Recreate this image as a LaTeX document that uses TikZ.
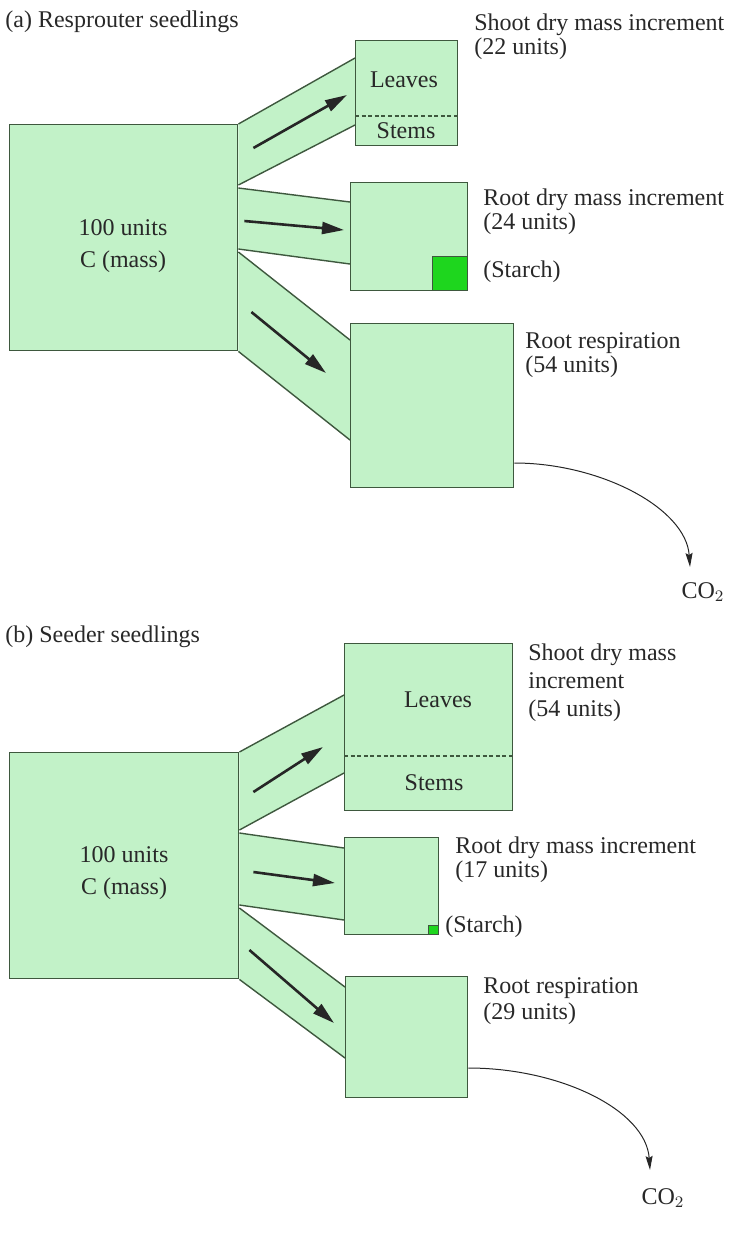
\documentclass[tikz,border=0pt]{standalone}
\usepackage{fontspec}
\setmainfont{Liberation Serif}
\usetikzlibrary{positioning,arrows.meta,calc,backgrounds}

\definecolor{poolfill}{RGB}{194,242,200}
\definecolor{pooldraw}{RGB}{62,88,62}
\definecolor{starchfill}{RGB}{30,214,30}
\definecolor{inktext}{RGB}{40,40,40}

\begin{document}
\begin{tikzpicture}[
	x=0.5pt, y=-0.5pt,
	font=\fontsize{12}{12}\selectfont,
	pool/.style={draw=pooldraw, fill=poolfill, line width=0.7pt,
		anchor=north west, inner sep=0pt},
	starch/.style={draw=pooldraw, fill=starchfill, line width=0.6pt,
		anchor=south east, inner sep=0pt},
	chan/.style={fill=poolfill},
	rim/.style={draw=pooldraw, line width=0.7pt},
	part/.style={draw=pooldraw, line width=0.6pt, dash pattern=on 2pt off 1.3pt},
	flow/.style={-{Triangle[length=11pt,width=6pt]}, line width=1.3pt, black!85},
	vent/.style={-{Stealth[length=7pt,width=3.5pt,inset=1pt]}, line width=0.5pt, black!85},
	txt/.style={text=inktext, inner sep=0pt},
	lbl/.style={txt, align=left, anchor=north west},
	hd/.style={txt, anchor=west},
	mass/.style={txt, align=center, font=\fontsize{12}{16}\selectfont},
]

\useasboundingbox (0,0) rectangle (733,1239);

% ---- (a) resprouter seedlings ----
\node[hd] (titA) at (5,22) {(a) Resprouter seedlings};

\node[pool, minimum width=114pt, minimum height=113pt] (bigA) at (9,124) {};
\node[mass] (cA) at (123,246) {100 units\\C (mass)};

\node[pool, minimum width=51pt, minimum height=52.5pt] (shootA) at (355,40) {};
\draw[part] ($(shootA.north west)+(0,76)$) -- ($(shootA.north east)+(0,76)$);
\node[txt] (lvA) at (404,80) {Leaves};
\node[txt] (stA) at (406,131) {Stems};

\node[pool, minimum width=58.5pt, minimum height=54pt] (rootA) at (350,182) {};
\node[starch, minimum width=17.5pt, minimum height=17pt] (stchA) at (rootA.south east) {};

\node[pool, minimum width=81.5pt, minimum height=82pt] (respA) at (350,323) {};

\node[lbl] (shootAtxt) at (474,13) {Shoot dry mass increment\\(22 units)};
\node[lbl] (rootAtxt) at (483,188) {Root dry mass increment\\(24 units)};
\node[hd] (stchAtxt) at (483,272) {(Starch)};
\node[lbl] (respAtxt) at (525,332) {Root respiration\\(54 units)};

\begin{scope}[on background layer]
	\fill[chan] (bigA.north east) -- ($(shootA.north west)+(0,18)$)
		-- ($(shootA.north west)+(0,85)$) -- ($(bigA.north east)+(0,61)$) -- cycle;
	\draw[rim] (bigA.north east) -- ($(shootA.north west)+(0,18)$);
	\draw[rim] ($(bigA.north east)+(0,61)$) -- ($(shootA.north west)+(0,85)$);

	\fill[chan] ($(bigA.north east)+(0,64)$) -- ($(rootA.north west)+(0,20)$)
		-- ($(rootA.north west)+(0,82)$) -- ($(bigA.north east)+(0,125)$) -- cycle;
	\draw[rim] ($(bigA.north east)+(0,64)$) -- ($(rootA.north west)+(0,20)$);
	\draw[rim] ($(bigA.north east)+(0,125)$) -- ($(rootA.north west)+(0,82)$);

	\fill[chan] ($(bigA.north east)+(0,128)$) -- ($(respA.north west)+(0,17)$)
		-- ($(respA.north west)+(0,117)$) -- (bigA.south east) -- cycle;
	\draw[rim] ($(bigA.north east)+(0,128)$) -- ($(respA.north west)+(0,17)$);
	\draw[rim] (bigA.south east) -- ($(respA.north west)+(0,117)$);
\end{scope}

\draw[flow] ($(bigA.north east)+(15,24)$) -- ($(shootA.north west)+(-8,55)$);
\draw[flow] ($(bigA.north east)+(6,97)$) -- ($(rootA.north west)+(-6,48)$);
\draw[flow] ($(bigA.north east)+(13,188)$) -- ($(respA.north west)+(-24,50)$);

\node[txt] (co2A) at (703,592) {CO$_2$};
\coordinate (tipA) at (690,567);
\draw[vent] ($(respA.north east)+(0,140)$) .. controls (600,463) and (686,508) .. (tipA);

% ---- (b) seeder seedlings ----
\node[hd] (titB) at (5,637) {(b) Seeder seedlings};

\node[pool, minimum width=114.5pt, minimum height=113pt] (bigB) at (9,752) {};
\node[mass] (cB) at (124,873) {100 units\\C (mass)};

\node[pool, minimum width=84pt, minimum height=83.5pt] (shootB) at (344,643) {};
\draw[part] ($(shootB.north west)+(0,113)$) -- ($(shootB.north east)+(0,113)$);
\node[txt] (lvB) at (438,700) {Leaves};
\node[txt] (stB) at (434,783) {Stems};

\node[pool, minimum width=47pt, minimum height=48.5pt] (rootB) at (344,837) {};
\node[starch, minimum width=5pt, minimum height=4.5pt] (stchB) at (rootB.south east) {};

\node[pool, minimum width=61pt, minimum height=60.5pt] (respB) at (345,976) {};

\node[lbl, font=\fontsize{12}{14}\selectfont] (shootBtxt) at (528,643) {Shoot dry mass\\increment\\(54 units)};
\node[lbl] (rootBtxt) at (455,836) {Root dry mass increment\\(17 units)};
\node[hd] (stchBtxt) at (445,927) {(Starch)};
\node[lbl, font=\fontsize{12}{13}\selectfont] (respBtxt) at (483,977) {Root respiration\\(29 units)};

\begin{scope}[on background layer]
	\fill[chan] (bigB.north east) -- ($(shootB.north west)+(0,52)$)
		-- ($(shootB.north west)+(0,130)$) -- ($(bigB.north east)+(0,78)$) -- cycle;
	\draw[rim] (bigB.north east) -- ($(shootB.north west)+(0,52)$);
	\draw[rim] ($(bigB.north east)+(0,78)$) -- ($(shootB.north west)+(0,130)$);

	\fill[chan] ($(bigB.north east)+(0,81)$) -- ($(rootB.north west)+(0,11)$)
		-- ($(rootB.north west)+(0,83)$) -- ($(bigB.north east)+(0,153)$) -- cycle;
	\draw[rim] ($(bigB.north east)+(0,81)$) -- ($(rootB.north west)+(0,11)$);
	\draw[rim] ($(bigB.north east)+(0,153)$) -- ($(rootB.north west)+(0,83)$);

	\fill[chan] ($(bigB.north east)+(0,156)$) -- ($(respB.north west)+(0,11)$)
		-- ($(respB.north west)+(0,82)$) -- (bigB.south east) -- cycle;
	\draw[rim] ($(bigB.north east)+(0,156)$) -- ($(respB.north west)+(0,11)$);
	\draw[rim] (bigB.south east) -- ($(respB.north west)+(0,82)$);
\end{scope}

\draw[flow] ($(bigB.north east)+(14,40)$) -- ($(shootB.north west)+(-21,104)$);
\draw[flow] ($(bigB.north east)+(14,120)$) -- ($(rootB.north west)+(-9,46)$);
\draw[flow] ($(bigB.north east)+(10,198)$) -- ($(respB.north west)+(-11,47)$);

\node[txt] (co2B) at (663,1198) {CO$_2$};
\coordinate (tipB) at (650,1170);
\draw[vent] ($(respB.north east)+(0,92)$) .. controls (560,1068) and (646,1110) .. (tipB);

\end{tikzpicture}
\end{document}
